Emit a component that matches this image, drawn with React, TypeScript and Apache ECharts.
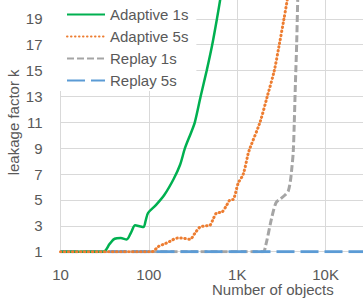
import React, { useEffect, useRef } from "react";
import * as echarts from "echarts";

const seriesNames = ["Adaptive 1s", "Adaptive 5s", "Replay 1s", "Replay 5s"];

const adaptive1sX = [10, 30.5, 36, 41, 48, 56, 63, 70, 80, 87, 92, 98, 120, 150, 190, 225, 256, 300, 331, 385, 451, 521, 589, 660];
const adaptive1sY = [1, 1, 1.6, 2.0, 2.05, 1.95, 2.5, 3.05, 2.95, 2.9, 3.4, 4.0, 4.6, 5.4, 6.6, 7.7, 9, 10.2, 11, 13, 15, 17, 19, 21];

const adaptive5sX = [10, 108, 128, 150, 173, 210, 240, 265, 292, 330, 378, 440, 491, 540, 585, 666, 760, 826, 902, 1026, 1169, 1331, 1392, 1807, 2185, 2623, 2987, 3376, 3800];
const adaptive5sY = [1, 1, 1.4, 1.6, 1.8, 2.05, 2.05, 2.0, 1.96, 2.4, 2.9, 3.0, 3.05, 3.6, 4.0, 4.05, 4.6, 5.0, 5.05, 6.3, 7.0, 8.6, 9, 11, 13, 15, 17, 19, 21];

const replay1sX = [10, 1950, 2100, 2450, 2750, 3040, 3500, 3780, 4000, 4150, 4300, 4420, 4550, 4700, 4850];
const replay1sY = [1, 1, 1.5, 3.6, 4.8, 5.05, 5.4, 5.7, 6.5, 7.5, 8.7, 11, 14, 17, 21];

const replay5sX = [10, 100000];
const replay5sY = [1, 1];

const xTickValues = [10, 100, 1000, 10000, 100000];
const xTickLabels = ["10", "100", "1K", "10K", "100K"];

const xAxisTitle = "Number of objects";
const yAxisTitle = "leakage factor k";

const FONT = "Liberation Sans";
const TEXT_COLOR = "#595959";
const GRID_COLOR = "#D9D9D9";

function zip(xs: number[], ys: number[]) {
  return xs.map((x, i) => [x, ys[i]]);
}

export default function App() {
  const ref = useRef<HTMLDivElement>(null);

  useEffect(() => {
    if (!ref.current) return;
    const chart = echarts.init(ref.current, null, { renderer: "svg" });
    chart.setOption({
      animation: false,
      backgroundColor: "#ffffff",
      grid: {
        left: 60.5,
        right: -51,
        top: -7,
        bottom: 46.3,
        containLabel: false,
        outerBoundsMode: "none",
      },
      legend: {
        orient: "vertical",
        left: 58,
        top: 0,
        padding: [7, 8, 3, 8],
        backgroundColor: "#ffffff",
        itemWidth: 38,
        itemHeight: 14,
        itemGap: 7,
        itemStyle: { opacity: 0, color: "transparent", borderWidth: 0 },
        textStyle: { fontFamily: FONT, fontSize: 15, color: TEXT_COLOR },
        data: seriesNames,
      },
      xAxis: {
        type: "log",
        logBase: 10,
        min: 10,
        max: 100000,
        axisLine: { show: true, lineStyle: { color: GRID_COLOR, width: 1 } },
        axisTick: { show: false },
        splitLine: { show: true, lineStyle: { color: GRID_COLOR, width: 1 } },
        minorSplitLine: { show: false },
        axisLabel: {
          fontFamily: FONT,
          fontSize: 15,
          lineHeight: 13,
          color: TEXT_COLOR,
          margin: 16,
          showMaxLabel: false,
          formatter: (v: number) => {
            const i = xTickValues.findIndex((t) => Math.abs(t - v) / t < 1e-6);
            return i >= 0 ? xTickLabels[i] : "";
          },
        },
      },
      yAxis: {
        type: "value",
        min: 1,
        max: 21,
        interval: 2,
        axisLine: { show: true, lineStyle: { color: GRID_COLOR, width: 1 } },
        axisTick: { show: false },
        splitLine: { show: true, lineStyle: { color: GRID_COLOR, width: 1 } },
        axisLabel: { fontFamily: FONT, fontSize: 15, color: TEXT_COLOR, margin: 18, showMaxLabel: false },
        name: yAxisTitle,
        nameLocation: "middle",
        nameGap: 40,
        nameMoveOverlap: false,
        nameTextStyle: { fontFamily: FONT, fontSize: 15, color: TEXT_COLOR },
      },
      graphic: [
        {
          type: "text",
          left: 212,
          top: 282,
          style: {
            text: xAxisTitle,
            fontFamily: FONT,
            fontSize: 15,
            lineHeight: 14,
            fill: TEXT_COLOR,
            textAlign: "center",
          },
        },
      ],
      series: [
        {
          name: seriesNames[0],
          type: "line",
          data: zip(adaptive1sX, adaptive1sY),
          symbol: "none",
          smooth: 0.3,
          z: 3,
          lineStyle: { color: "#00B050", width: 2.5, type: "solid" },
          itemStyle: { color: "#00B050" },
        },
        {
          name: seriesNames[1],
          type: "line",
          data: zip(adaptive5sX, adaptive5sY),
          symbol: "none",
          smooth: 0.3,
          z: 3,
          lineStyle: { color: "#ED7D31", width: 3, type: [0.5, 3.5], cap: "round" },
          itemStyle: { color: "#ED7D31" },
        },
        {
          name: seriesNames[2],
          type: "line",
          data: zip(replay1sX, replay1sY),
          symbol: "none",
          smooth: 0.3,
          z: 2,
          lineStyle: { color: "#A5A5A5", width: 3, type: [7, 3] },
          itemStyle: { color: "#A5A5A5" },
        },
        {
          name: seriesNames[3],
          type: "line",
          data: zip(replay5sX, replay5sY),
          symbol: "none",
          z: 2,
          lineStyle: { color: "#5B9BD5", width: 3, type: [18, 6] },
          itemStyle: { color: "#5B9BD5" },
        },
      ],
    });
    return () => chart.dispose();
  }, []);

  return <div ref={ref} style={{ width: 363, height: 298, position: "absolute", left: 0, top: 0 }} />;
}
